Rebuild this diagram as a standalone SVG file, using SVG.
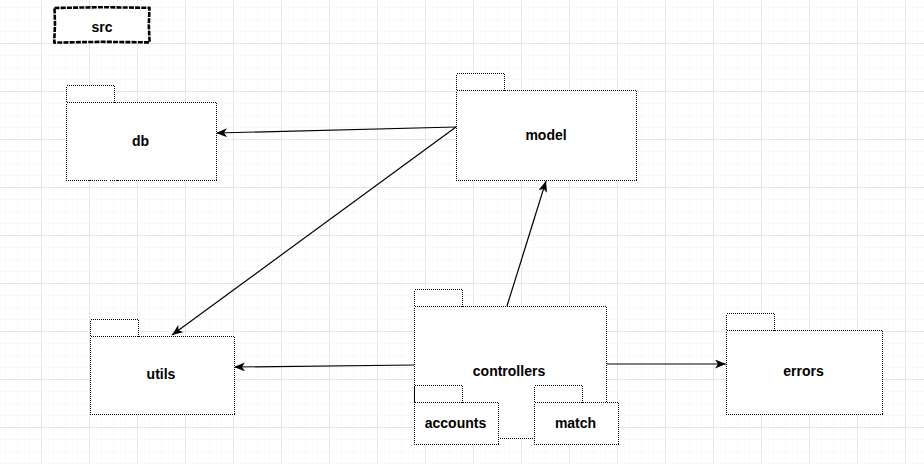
<svg xmlns="http://www.w3.org/2000/svg" width="924" height="464" viewBox="0 0 924 464">
  <defs>
    <pattern id="gridMinor" x="5" y="7" width="12" height="12" patternUnits="userSpaceOnUse">
      <path d="M0,0 H12 M0,0 V12" fill="none" stroke="#f3f3f3" stroke-width="1"/>
    </pattern>
    <pattern id="gridMajor" x="41" y="43" width="48" height="48" patternUnits="userSpaceOnUse">
      <path d="M0,0.5 H48 M0.5,0 V48" fill="none" stroke="#e6e6e6" stroke-width="1"/>
    </pattern>
    <marker id="arrow" viewBox="0 0 11 9" refX="11" refY="4.5" markerWidth="11" markerHeight="9" markerUnits="userSpaceOnUse" orient="auto">
      <path d="M0,0 L11,4.5 L0,9 L3,4.5 Z" fill="#000"/>
    </marker>
    <style>
      .pkg { fill: #fff; stroke: #000; stroke-width: 1; stroke-dasharray: 1 1; shape-rendering: crispEdges; }
      .lbl { font-family: "Liberation Sans", Arial, Helvetica, sans-serif; font-size: 14px; font-weight: bold; fill: #000; text-anchor: middle; }
      .edge { fill: none; stroke: #000; stroke-width: 1.2; marker-end: url(#arrow); }
    </style>
  </defs>

  <!-- canvas grid -->
  <rect x="0" y="0" width="924" height="464" fill="#fff"/>
  <rect x="0" y="0" width="924" height="464" fill="url(#gridMinor)"/>
  <rect x="0" y="0" width="924" height="464" fill="url(#gridMajor)"/>

  <!-- title box -->
  <g id="src">
    <path d="M54.5,8 L100,7.2 L149.5,7.8 L148.8,25 L149.6,42.4 L102,41.8 L54.2,42.6 L55,24 Z" fill="#fff" stroke="#000" stroke-width="2.6" stroke-dasharray="5 1.2" stroke-linejoin="round"/>
    <text class="lbl" x="102" y="32" font-size="13.5">src</text>
  </g>

  <!-- connectors -->
  <g id="connectors">
    <path class="edge" d="M456,127 L216,133"/>
    <path class="edge" d="M456,127 L172,335"/>
    <path class="edge" d="M507,306 L546,181"/>
    <path class="edge" d="M414,365 L234,367"/>
    <path class="edge" d="M606,364 L726,364"/>
  </g>

  <!-- packages -->
  <g id="db">
    <rect class="pkg" x="66.5" y="85.5" width="48" height="17"/>
    <rect class="pkg" x="66.5" y="102.5" width="150" height="78"/>
    <text class="lbl" x="140.5" y="146">db</text>
  </g>

  <g id="model">
    <rect class="pkg" x="456.5" y="73.5" width="48" height="17"/>
    <rect class="pkg" x="456.5" y="90.5" width="180" height="90"/>
    <text class="lbl" x="546" y="139.5">model</text>
  </g>

  <g id="utils">
    <rect class="pkg" x="90.5" y="319.5" width="48" height="17"/>
    <rect class="pkg" x="90.5" y="336.5" width="144" height="78"/>
    <text class="lbl" x="161" y="379">utils</text>
  </g>

  <g id="errors">
    <rect class="pkg" x="726.5" y="313.5" width="48" height="17"/>
    <rect class="pkg" x="726.5" y="330.5" width="156" height="84"/>
    <text class="lbl" x="803.5" y="376">errors</text>
  </g>

  <g id="controllers">
    <rect class="pkg" x="414.5" y="289.5" width="48" height="17"/>
    <rect class="pkg" x="414.5" y="306.5" width="192" height="132"/>
    <text class="lbl" x="509" y="376">controllers</text>
  </g>

  <g id="accounts">
    <rect class="pkg" x="414.5" y="385.5" width="48" height="17"/>
    <rect class="pkg" x="414.5" y="402.5" width="84" height="42"/>
    <text class="lbl" x="455.5" y="427.5">accounts</text>
  </g>

  <g id="match">
    <rect class="pkg" x="534.5" y="385.5" width="48" height="17"/>
    <rect class="pkg" x="534.5" y="402.5" width="84" height="42"/>
    <text class="lbl" x="575.5" y="427.5">match</text>
  </g>
</svg>
